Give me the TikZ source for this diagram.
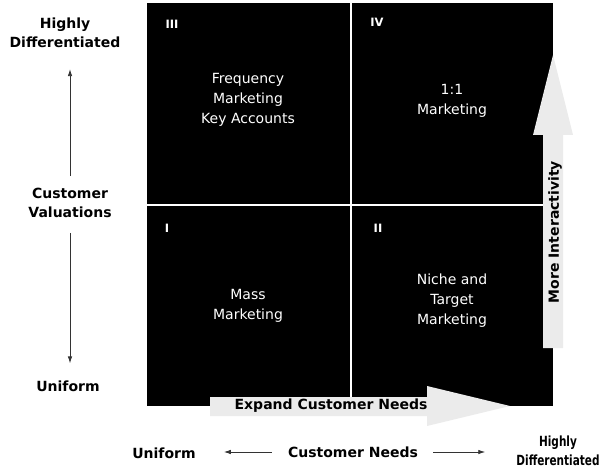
\documentclass[tikz,border=0pt]{standalone}
\usepackage{fontspec}
\setsansfont{DejaVu Sans}
\newfontfamily\narrowsans[FakeStretch=0.75]{DejaVu Sans}
\usetikzlibrary{arrows.meta}

\tikzset{
	axislabel/.style={font=\sffamily\bfseries\fontsize{14}{19}\selectfont, align=center, inner sep=0pt},
	cell/.style={font=\sffamily\fontsize{14}{20}\selectfont, text=white, align=center, inner sep=0pt},
	numeral/.style={font=\sffamily\bfseries\fontsize{11.5}{13}\selectfont, text=white, inner sep=0pt},
	band/.style={font=\sffamily\bfseries\fontsize{14}{16}\selectfont, inner sep=0pt},
	axisarrow/.style={-{Latex[length=7pt,width=4.5pt]}, line width=0.8pt, color=black!80},
	divider/.style={white, line width=1.2pt},
}

\begin{document}
\begin{tikzpicture}[x=1pt, y=1pt]
	\useasboundingbox (0,0) rectangle (602,472);
	%%%%% MATRIX %%%%%
	
	\fill[black] (147,66) rectangle (553,469);
	\draw[divider] (351,469) -- (351,66);
	\draw[divider] (147,267) -- (553,267);
	
	% wide pale arrows lying on the right and lower edge
	\fill[black!8] (543,124) -- (543,337) -- (533,337) -- (553,417) -- (573,337) -- (563,337) -- (563,124) -- cycle;
	\fill[black!8] (210,75) -- (427,75) -- (427,86) -- (510,66) -- (427,46) -- (427,56) -- (210,56) -- cycle;
	\node[band] (expand) at (331,66) {Expand Customer Needs};
	\node[band, rotate=90] (interact) at (555,240) {More Interactivity};
	
	\node[numeral] (n3) at (172,448) {III};
	\node[numeral] (n4) at (377,450) {IV};
	\node[numeral] (n1) at (167,244) {I};
	\node[numeral] (n2) at (378,244) {II};
	
	\node[cell] (q3) at (248,372) {Frequency\\Marketing\\Key Accounts};
	\node[cell] (q4) at (452,371) {1:1\\Marketing};
	\node[cell] (q1) at (248,166) {Mass\\Marketing};
	\node[cell] (q2) at (452,171) {Niche and\\Target\\Marketing};
	
	%%%%% AXES %%%%%
	
	\node[axislabel] (vhigh) at (65,439) {Highly\\Differentiated};
	\node[axislabel] (vname) at (70,269) {Customer\\Valuations};
	\node[axislabel] (vlow) at (68,86) {Uniform};
	\draw[axisarrow, shorten <=12pt, shorten >=21pt] (vname.north) -- (vname.north |- vhigh.south);
	\draw[axisarrow, shorten <=15pt, shorten >=17pt] (vname.south) -- (vname.south |- vlow.north);
	
	\node[axislabel] (hlow) at (164,19) {Uniform};
	\node[axislabel] (hname) at (353,20) {Customer Needs};
	\node[axislabel, font=\narrowsans\bfseries\fontsize{14}{19}\selectfont] (hhigh) at (558,21) {Highly\\Differentiated};
	\draw[axisarrow, shorten <=16pt, shorten >=28pt] (hname.west) -- (hname.west -| hlow.east);
	\draw[axisarrow, shorten <=15pt, shorten >=31pt] (hname.east) -- (hname.east -| hhigh.west);
	
	%%%%% END %%%%%
\end{tikzpicture}
\end{document}
